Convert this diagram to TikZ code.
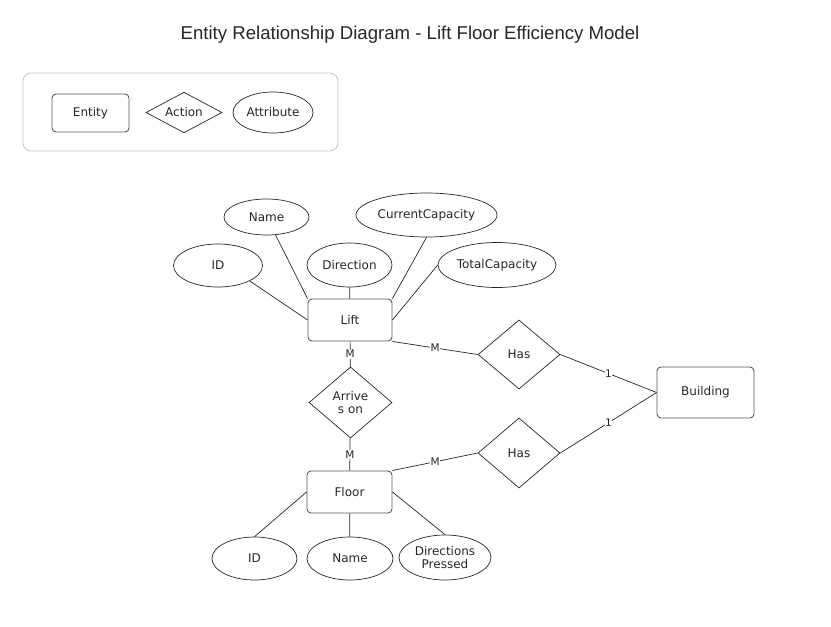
\documentclass[tikz,border=0pt]{standalone}
\usepackage{fontspec}
\setmainfont{DejaVu Sans}
\newfontfamily\titlefont{Liberation Sans}
\usetikzlibrary{shapes.geometric}

\begin{document}
\begin{tikzpicture}[x=1pt, y=-1pt,
	every node/.style={font=\fontsize{12}{14}\selectfont, text=black!85},
	entity/.style={rectangle, rounded corners=4pt, draw=black!65, line width=0.9pt, inner sep=0pt},
	action/.style={diamond, draw=black!85, line width=0.7pt, inner sep=0pt, aspect=1.2},
	attrib/.style={ellipse, draw=black!85, line width=0.7pt, inner sep=0pt},
	link/.style={draw=black!85, line width=0.7pt},
	card/.style={midway, fill=white, inner sep=0.6pt, font=\fontsize{10.5}{12}\selectfont}]
			\useasboundingbox (0,0) rectangle (831,627);
			
			% Title and legend
			\node[font=\titlefont\fontsize{18.6}{21}\selectfont, text=black!85] (title) at (410,35) {Entity Relationship Diagram - Lift Floor Efficiency Model};
			\node[draw=black!22, line width=0.9pt, rounded corners=8pt, minimum width=315pt, minimum height=78pt] (legend) at (180.5,112) {};
			\node[entity, minimum width=77pt, minimum height=38pt] (entitykey) at (90.5,113) {Entity};
			\node[action, minimum width=76pt, minimum height=39pt] (actionkey) at (184,112.5) {Action};
			\node[attrib, minimum width=80pt, minimum height=41pt] (attribkey) at (273,112.5) {Attribute};
			
			% Nodes
			\node[entity, minimum width=84pt, minimum height=42pt] (lift) at (350,320) {Lift};
			\node[entity, minimum width=85pt, minimum height=42pt] (floor) at (349.5,492) {Floor};
			\node[entity, minimum width=97pt, minimum height=51pt] (building) at (705.5,392.5) {Building};
			
			\node[action, minimum width=82pt, minimum height=69pt] (has1) at (519,354.5) {Has};
			\node[action, minimum width=82pt, minimum height=70pt] (has2) at (519,453) {Has};
			\node[action, minimum width=83pt, minimum height=71pt, align=center, font=\fontsize{12}{13.5}\selectfont] (arrive) at (350.5,402.5) {Arrive\\s on};
			
			\node[attrib, minimum width=89pt, minimum height=43pt] (liftid) at (218,265.5) {ID};
			\node[attrib, minimum width=85pt, minimum height=36pt] (liftname) at (266.5,217) {Name};
			\node[attrib, minimum width=85pt, minimum height=44pt] (liftdir) at (349.5,265) {Direction};
			\node[attrib, minimum width=141pt, minimum height=44pt] (curcap) at (426.5,215) {CurrentCapacity};
			\node[attrib, minimum width=118pt, minimum height=45pt] (totcap) at (497,265) {TotalCapacity};
			
			\node[attrib, minimum width=85pt, minimum height=43pt] (floorid) at (254.5,558.5) {ID};
			\node[attrib, minimum width=86pt, minimum height=43pt] (floorname) at (350,558.5) {Name};
			\node[attrib, minimum width=92pt, minimum height=45pt, align=center, font=\fontsize{12}{13.5}\selectfont] (pressed) at (445,557.5) {Directions\\Pressed};
			
			% Edges
			\path[link] (liftid.south east) edge (lift.west);
			\path[link] (liftname) edge (lift.north west);
			\path[link] (liftdir) edge (lift);
			\path[link] (curcap.south) edge (lift.north east);
			\path[link] (totcap.west) edge (lift.east);
			
			\path[link] (lift.south east) edge node[card] {M} (has1.west);
			\path[link] (has1.east) edge node[card] {1} (building.west);
			\path[link] (floor.north east) edge node[card] {M} (has2.west);
			\path[link] (has2.east) edge node[card] {1} (building.west);
			
			\path[link] (lift) edge node[card] {M} (arrive);
			\path[link] (arrive) edge node[card] {M} (floor);
			
			\path[link] (floor.west) edge (floorid.north);
			\path[link] (floor) edge (floorname);
			\path[link] (floor.east) edge (pressed.north);
		\end{tikzpicture}
\end{document}
